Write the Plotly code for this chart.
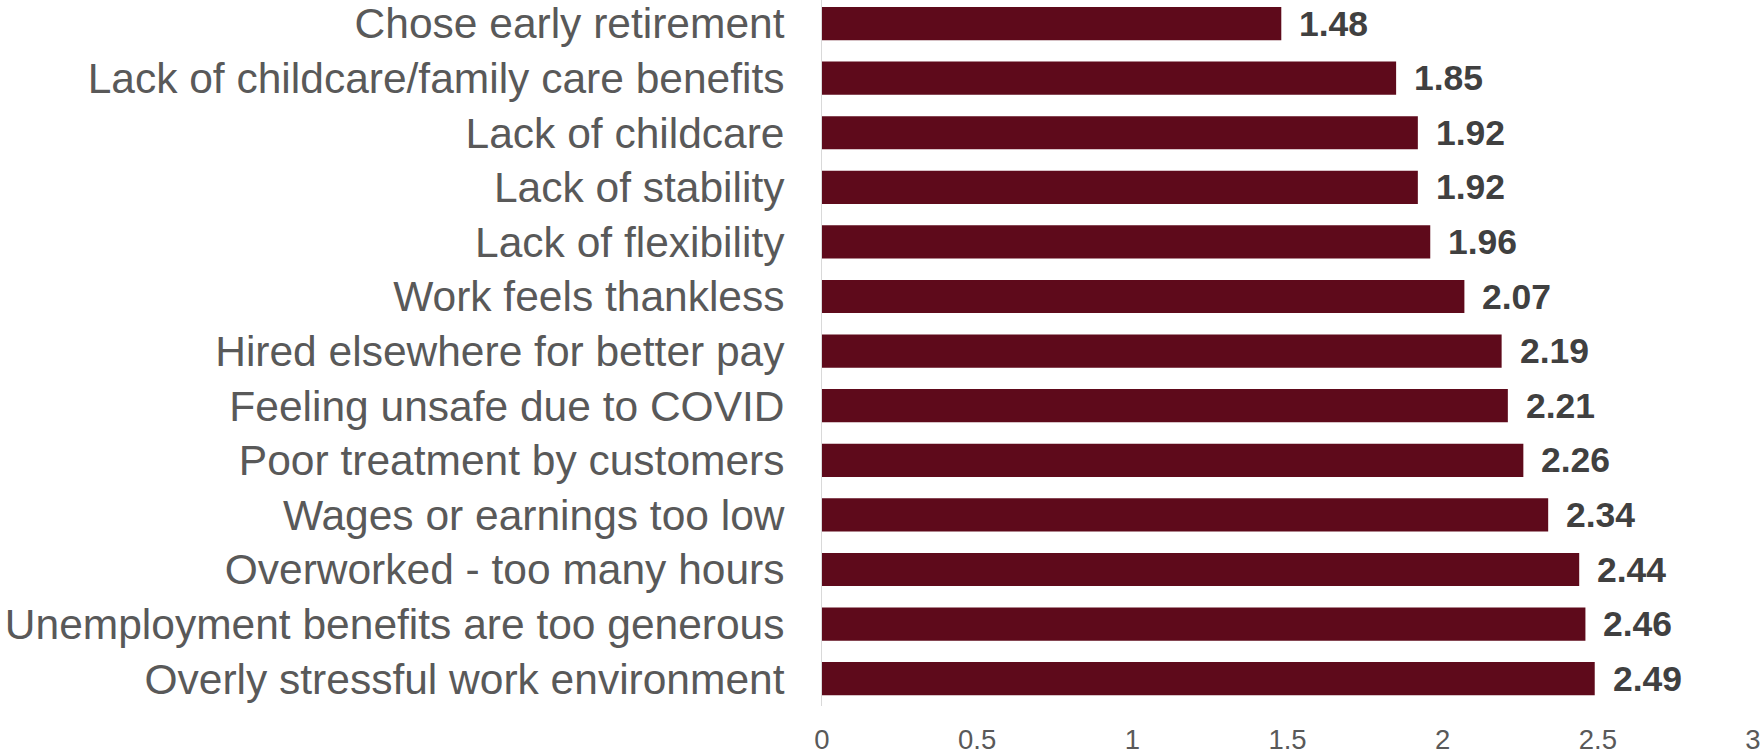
import plotly.graph_objects as go

categories = [
    "Chose early retirement",
    "Lack of childcare/family care benefits",
    "Lack of childcare",
    "Lack of stability",
    "Lack of flexibility",
    "Work feels thankless",
    "Hired elsewhere for better pay",
    "Feeling unsafe due to COVID",
    "Poor treatment by customers",
    "Wages or earnings too low",
    "Overworked - too many hours",
    "Unemployment benefits are too generous",
    "Overly stressful work environment",
]
values = [1.48, 1.85, 1.92, 1.92, 1.96, 2.07, 2.19, 2.21, 2.26, 2.34, 2.44, 2.46, 2.49]
x_ticks = [0, 0.5, 1, 1.5, 2, 2.5, 3]
x_tick_labels = ["0", "0.5", "1", "1.5", "2", "2.5", "3"]

BAR_COLOR = "#5E0A1B"
FONT = "Arial, Liberation Sans, sans-serif"

fig = go.Figure()
fig.add_trace(go.Bar(
    x=values,
    y=categories,
    orientation="h",
    marker=dict(color=BAR_COLOR, line=dict(width=0)),
    hoverinfo="skip",
))

for c, v in zip(categories, values):
    fig.add_annotation(
        x=v, y=c, text=f"<b>{v:.2f}</b>",
        showarrow=False, xanchor="left", yanchor="middle",
        xshift=16,
        font=dict(family=FONT, size=35.5, color="#404040"),
    )

fig.update_layout(
    width=1764, height=755,
    margin=dict(l=822, r=11, t=0, b=47),
    paper_bgcolor="white",
    plot_bgcolor="white",
    bargap=0.392,
    showlegend=False,
    xaxis=dict(
        range=[0, 3],
        tickvals=x_ticks,
        ticktext=x_tick_labels,
        showgrid=False,
        zeroline=False,
        showline=False,
        ticks="",
        tickfont=dict(family=FONT, size=27.5, color="#595959"),
        ticklabelstandoff=14,
    ),
    yaxis=dict(
        categoryorder="array",
        categoryarray=categories,
        range=[12.5, -0.431],
        showgrid=False,
        zeroline=False,
        showline=True,
        linecolor="#D9D9D9",
        linewidth=1,
        ticks="",
        tickfont=dict(family=FONT, size=42.5, color="#595959"),
        ticklabelstandoff=28,
    ),
)

fig.write_html("out.html")
